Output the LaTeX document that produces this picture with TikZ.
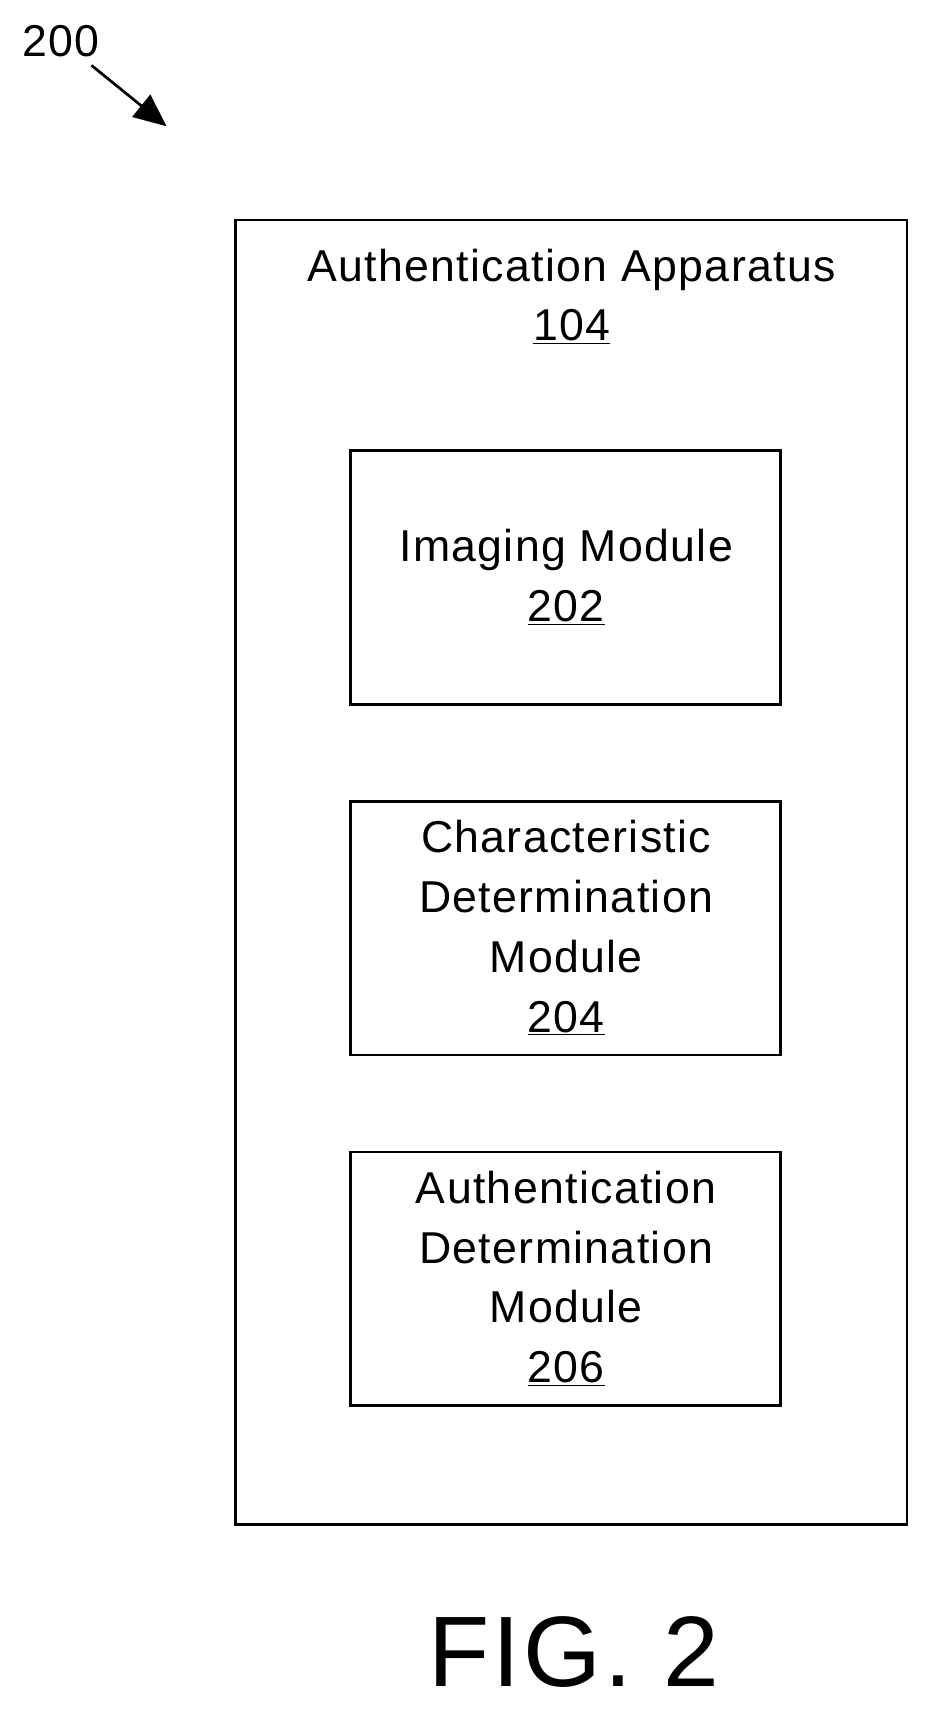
\documentclass[tikz,border=0pt]{standalone}
\usepackage{fontspec}
\setmainfont{Liberation Sans}[LetterSpace=3]
\usetikzlibrary{arrows.meta}
\begin{document}
\begin{tikzpicture}[x=1pt,y=-1pt,
  box/.style={draw,line width=2.5pt},
  txt/.style={font=\fontsize{41}{55}\selectfont,align=center,inner sep=0pt,anchor=center}]
\useasboundingbox (0,0) rectangle (860,1578);
\draw[box] (216,202) rectangle (833,1400);
\draw[box] (322,414) rectangle (717,647);
\draw[box] (322,736) rectangle (717,969);
\draw[box] (322,1058) rectangle (717,1291);
\node[txt] (t1) at (525,272) {Authentication Apparatus\\\underline{104}};
\node[txt] (t2) at (520,530) {Imaging Module\\\underline{202}};
\node[txt] (t3) at (520,852) {Characteristic\\Determination\\Module\\\underline{204}};
\node[txt] (t4) at (520,1174) {Authentication\\Determination\\Module\\\underline{206}};
\node[txt,font=\fontsize{92}{92}\selectfont] (fig) at (527,1517) {FIG. 2};
\node[txt] (n200) at (56,38) {200};
\coordinate (tip) at (153,116);
\draw[line width=2.5pt,-{Triangle[length=30pt,width=26pt]}] (84,60) -- (tip);
\end{tikzpicture}
\end{document}
